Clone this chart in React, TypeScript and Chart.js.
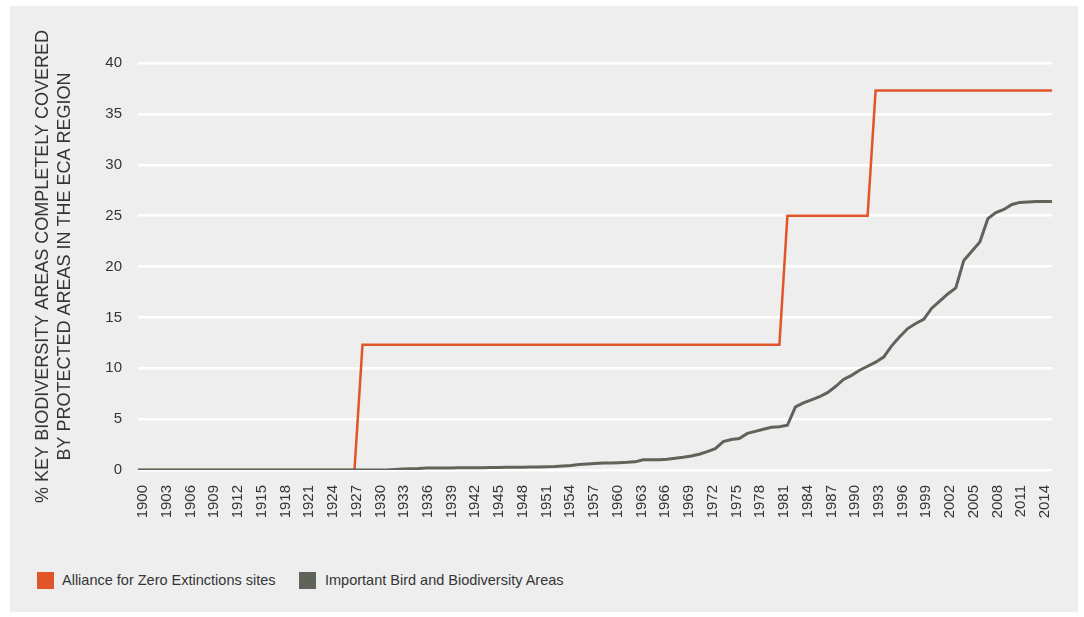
import React, { useEffect, useRef } from "react";
import { Chart, registerables } from "chart.js";

Chart.register(...registerables);

const seriesNames = [
  "Alliance for Zero Extinctions sites",
  "Important Bird and Biodiversity Areas",
];

const yTitle = [
  "% KEY BIODIVERSITY AREAS COMPLETELY COVERED",
  "BY PROTECTED AREAS IN THE ECA REGION",
];

const xTickYears = [
  1900, 1903, 1906, 1909, 1912, 1915, 1918, 1921, 1924, 1927, 1930, 1933, 1936,
  1939, 1942, 1945, 1948, 1951, 1954, 1957, 1960, 1963, 1966, 1969, 1972, 1975,
  1978, 1981, 1984, 1987, 1990, 1993, 1996, 1999, 2002, 2005, 2008, 2011, 2014,
];

const yTicks = [0, 5, 10, 15, 20, 25, 30, 35, 40];

// Alliance for Zero Extinctions sites (step changes)
const azeYears = [1900, 1927, 1928, 1980, 1981, 1991, 1992, 2014];
const azeValues = [0, 0, 12.3, 12.3, 25, 25, 37.3, 37.3];

// Important Bird and Biodiversity Areas
const ibaYears = [
  1900, 1931, 1932, 1933, 1934, 1935, 1936, 1937, 1938, 1939, 1940, 1941, 1942,
  1943, 1944, 1945, 1946, 1947, 1948, 1949, 1950, 1951, 1952, 1953, 1954, 1955,
  1956, 1957, 1958, 1959, 1960, 1961, 1962, 1963, 1964, 1965, 1966, 1967, 1968,
  1969, 1970, 1971, 1972, 1973, 1974, 1975, 1976, 1977, 1978, 1979, 1980, 1981,
  1982, 1983, 1984, 1985, 1986, 1987, 1988, 1989, 1990, 1991, 1992, 1993, 1994,
  1995, 1996, 1997, 1998, 1999, 2000, 2001, 2002, 2003, 2004, 2005, 2006, 2007,
  2008, 2009, 2010, 2011, 2012, 2013, 2014,
];
const ibaValues = [
  0, 0, 0.05, 0.1, 0.12, 0.15, 0.2, 0.2, 0.2, 0.2, 0.21, 0.22, 0.22,
  0.23, 0.24, 0.25, 0.26, 0.27, 0.28, 0.29, 0.3, 0.32, 0.35, 0.4, 0.45, 0.55,
  0.6, 0.65, 0.68, 0.7, 0.72, 0.75, 0.8, 1.0, 1.0, 1.0, 1.05, 1.15, 1.25,
  1.38, 1.55, 1.8, 2.1, 2.8, 3.0, 3.1, 3.6, 3.8, 4.0, 4.2, 4.25, 4.4,
  6.2, 6.6, 6.9, 7.2, 7.6, 8.2, 8.9, 9.3, 9.8, 10.2, 10.6, 11.1, 12.2,
  13.1, 13.9, 14.4, 14.8, 15.9, 16.6, 17.3, 17.9, 20.6, 21.5, 22.4, 24.7, 25.3,
  25.6, 26.1, 26.3, 26.35, 26.4, 26.4, 26.4,
];

const RED = "#e1552b";
const GRAY = "#5e6459";
const FONT = "'Liberation Sans', Arial, Helvetica, sans-serif";
const TEXT = "#353535";

export default function App() {
  const ref = useRef<HTMLCanvasElement>(null);

  useEffect(() => {
    if (!ref.current) return;
    const chart = new Chart(ref.current, {
      type: "line",
      data: {
        datasets: [
          {
            label: seriesNames[0],
            data: azeYears.map((x, i) => ({ x, y: azeValues[i] })),
            borderColor: RED,
            backgroundColor: RED,
            borderWidth: 2.5,
            pointRadius: 0,
            tension: 0,
            fill: false,
            order: 2,
          },
          {
            label: seriesNames[1],
            data: ibaYears.map((x, i) => ({ x, y: ibaValues[i] })),
            borderColor: GRAY,
            backgroundColor: GRAY,
            borderWidth: 3,
            pointRadius: 0,
            tension: 0,
            fill: false,
            order: 1,
          },
        ],
      },
      options: {
        animation: false,
        responsive: false,
        maintainAspectRatio: false,
        layout: { padding: { top: 57, right: 26, bottom: 6, left: 0 } },
        plugins: {
          legend: { display: false },
          tooltip: { enabled: false },
        },
        scales: {
          x: {
            type: "linear",
            min: 1900,
            max: 2014,
            display: false,
          },
          xLabels: {
            type: "linear",
            position: "bottom",
            min: 1899.37,
            max: 2014.88,
            afterBuildTicks: (s: any) => {
              s.ticks = xTickYears.map((v) => ({ value: v }));
            },
            afterFit: (s: any) => {
              s.height = 70;
              s.paddingLeft = 0;
              s.paddingRight = 0;
            },
            grid: { display: false, drawTicks: false },
            border: { display: false },
            ticks: {
              autoSkip: false,
              minRotation: 90,
              maxRotation: 90,
              padding: 15,
              color: TEXT,
              font: { family: FONT, size: 15 },
              callback: (v: any) => String(v),
            },
          },
          y: {
            min: 0,
            max: 40,
            afterBuildTicks: (s: any) => {
              s.ticks = yTicks.map((v) => ({ value: v }));
            },
            afterFit: (s: any) => {
              s.width = 128;
            },
            grid: { color: "#ffffff", lineWidth: 2.5, drawTicks: false },
            border: { display: false },
            ticks: {
              padding: 16,
              color: TEXT,
              font: { family: FONT, size: 15 },
              callback: (v: any) => String(v),
            },
            title: {
              display: true,
              text: yTitle,
              color: TEXT,
              font: { family: FONT, size: 18, lineHeight: 22 / 18 },
              padding: { top: 22, bottom: 0 },
            },
          },
        },
      },
    });
    return () => chart.destroy();
  }, []);

  const legendText: React.CSSProperties = {
    position: "absolute",
    top: 564,
    fontFamily: FONT,
    fontSize: 14.5,
    color: TEXT,
    lineHeight: "20px",
    whiteSpace: "nowrap",
  };
  const box: React.CSSProperties = {
    position: "absolute",
    top: 566,
    width: 17,
    height: 17,
  };

  return (
    <div
      style={{
        position: "absolute",
        left: 10,
        top: 6,
        width: 1068,
        height: 606,
        background: "#edeeed",
      }}
    >
      <canvas ref={ref} width={1068} height={540} style={{ display: "block" }} />
      <div style={{ ...box, left: 27, background: RED }} />
      <div style={{ ...legendText, left: 52 }}>{seriesNames[0]}</div>
      <div style={{ ...box, left: 289, background: GRAY }} />
      <div style={{ ...legendText, left: 315 }}>{seriesNames[1]}</div>
    </div>
  );
}
